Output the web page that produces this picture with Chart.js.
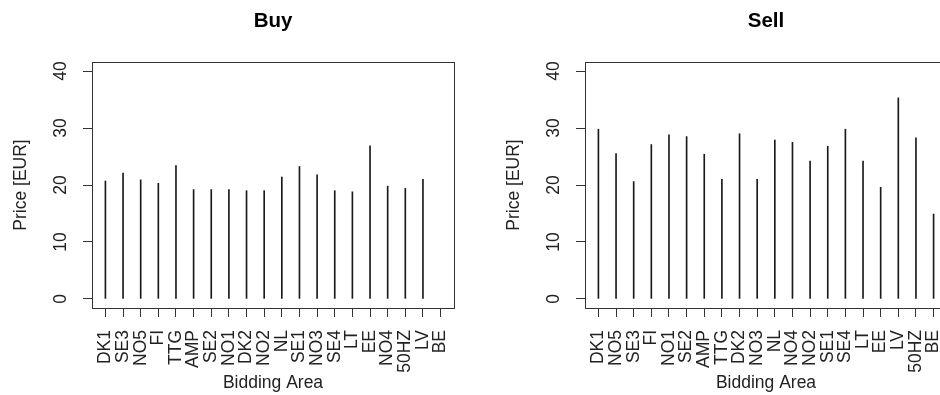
<!DOCTYPE html>
<html>
<head>
<meta charset="utf-8">
<script src="https://cdn.jsdelivr.net/npm/chart.js@4.4.1/dist/chart.umd.min.js"></script>
<style>
  html, body { margin: 0; padding: 0; width: 940px; height: 395px; overflow: hidden; background: #fff; }
  .panel { position: absolute; top: 0; width: 470px; height: 395px; }
</style>
</head>
<body>
<div class="panel" style="left:0"><canvas id="buy" width="470" height="395"></canvas></div>
<div class="panel" style="left:493px"><canvas id="sell" width="470" height="395"></canvas></div>
<script>
const buyAreas = ['DK1', 'SE3', 'NO5', 'FI', 'TTG', 'AMP', 'SE2', 'NO1', 'DK2', 'NO2',
                  'NL', 'SE1', 'NO3', 'SE4', 'LT', 'EE', 'NO4', '50HZ', 'LV', 'BE'];
const buyPrices = [20.7, 22.1, 20.9, 20.3, 23.4, 19.2, 19.2, 19.2, 19.0, 19.0,
                   21.4, 23.25, 21.8, 19.0, 18.8, 26.9, 19.8, 19.4, 21.0, null];

const sellAreas = ['DK1', 'NO5', 'SE3', 'FI', 'NO1', 'SE2', 'AMP', 'TTG', 'DK2', 'NO3',
                   'NL', 'NO4', 'NO2', 'SE1', 'SE4', 'LT', 'EE', 'LV', '50HZ', 'BE'];
const sellPrices = [29.8, 25.5, 20.6, 27.1, 28.8, 28.5, 25.4, 21.0, 29.0, 21.0,
                    27.9, 27.5, 24.2, 26.8, 29.8, 24.2, 19.6, 35.3, 28.3, 14.9];

const yTicks = [0, 10, 20, 30, 40];

const FAMILY = '"Liberation Sans", Arial, sans-serif';
const INK = '#333';

// box round the plot, the title and the upright y labels, R style
const rFrame = {
    id: 'rFrame',
    afterDraw(chart, args, opts) {
        const { ctx, chartArea: a, scales } = chart;
        ctx.save();
        ctx.strokeStyle = INK;
        ctx.lineWidth = 1;
        ctx.strokeRect(Math.round(a.left) + 0.5, Math.round(a.top) + 0.5,
                       Math.round(a.right - a.left), Math.round(a.bottom - a.top));

        ctx.fillStyle = '#000';
        ctx.font = 'bold 20.5px ' + FAMILY;
        ctx.textAlign = 'center';
        ctx.textBaseline = 'alphabetic';
        ctx.fillText(opts.title, (a.left + a.right) / 2, 27);

        ctx.fillStyle = '#222';
        ctx.font = '17.5px ' + FAMILY;
        ctx.textBaseline = 'middle';
        yTicks.forEach(v => {
            const y = scales.y.getPixelForValue(v);
            ctx.save();
            ctx.translate(a.left - 31, y);
            ctx.rotate(-Math.PI / 2);
            ctx.fillText(String(v), 0, 0);
            ctx.restore();
        });
        ctx.restore();
    }
};

function makeChart(id, title, areas, prices) {
    const n = areas.length;
    const pad = (n - 1) * 0.04;
    return new Chart(document.getElementById(id), {
        type: 'bar',
        data: {
            datasets: [{
                data: prices.map((p, i) => ({ x: i + 1, y: p })),
                backgroundColor: '#1a1a1a',
                borderWidth: 0,
                barThickness: 1
            }]
        },
        options: {
            responsive: false,
            animation: false,
            layout: { padding: { top: 62, right: 16, left: 0, bottom: 0 } },
            plugins: {
                legend: { display: false },
                tooltip: { enabled: false },
                rFrame: { title: title }
            },
            scales: {
                x: {
                    type: 'linear',
                    min: 1 - pad,
                    max: n + pad,
                    offset: false,
                    grid: { display: true, offset: false, drawOnChartArea: false, drawTicks: true, tickLength: 9, color: INK },
                    border: { display: false },
                    afterBuildTicks: s => { s.ticks = areas.map((a, i) => ({ value: i + 1 })); },
                    afterFit: s => {
                        s.height = 87;
                        s.paddingLeft = 0;
                        s.paddingRight = 0;
                    },
                    ticks: {
                        autoSkip: false,
                        minRotation: 90,
                        maxRotation: 90,
                        padding: 13,
                        color: '#222',
                        font: { family: FAMILY, size: 17.5 },
                        callback: v => areas[v - 1]
                    },
                    title: {
                        display: true,
                        text: 'Bidding Area',
                        color: '#222',
                        font: { family: FAMILY, size: 17.5 },
                        padding: { top: 0, bottom: 1.5 }
                    }
                },
                y: {
                    min: -1.6,
                    max: 41.6,
                    grid: { display: true, drawOnChartArea: false, drawTicks: true, tickLength: 9, color: INK },
                    border: { display: false },
                    afterBuildTicks: s => { s.ticks = yTicks.map(v => ({ value: v })); },
                    afterFit: s => { s.width = 92; },
                    ticks: { display: false },
                    title: {
                        display: true,
                        text: 'Price [EUR]',
                        color: '#222',
                        font: { family: FAMILY, size: 17.5 },
                        padding: { top: 10.5, bottom: 0 }
                    }
                }
            }
        },
        plugins: [rFrame]
    });
}

makeChart('buy', 'Buy', buyAreas, buyPrices);
makeChart('sell', 'Sell', sellAreas, sellPrices);
</script>
</body>
</html>
